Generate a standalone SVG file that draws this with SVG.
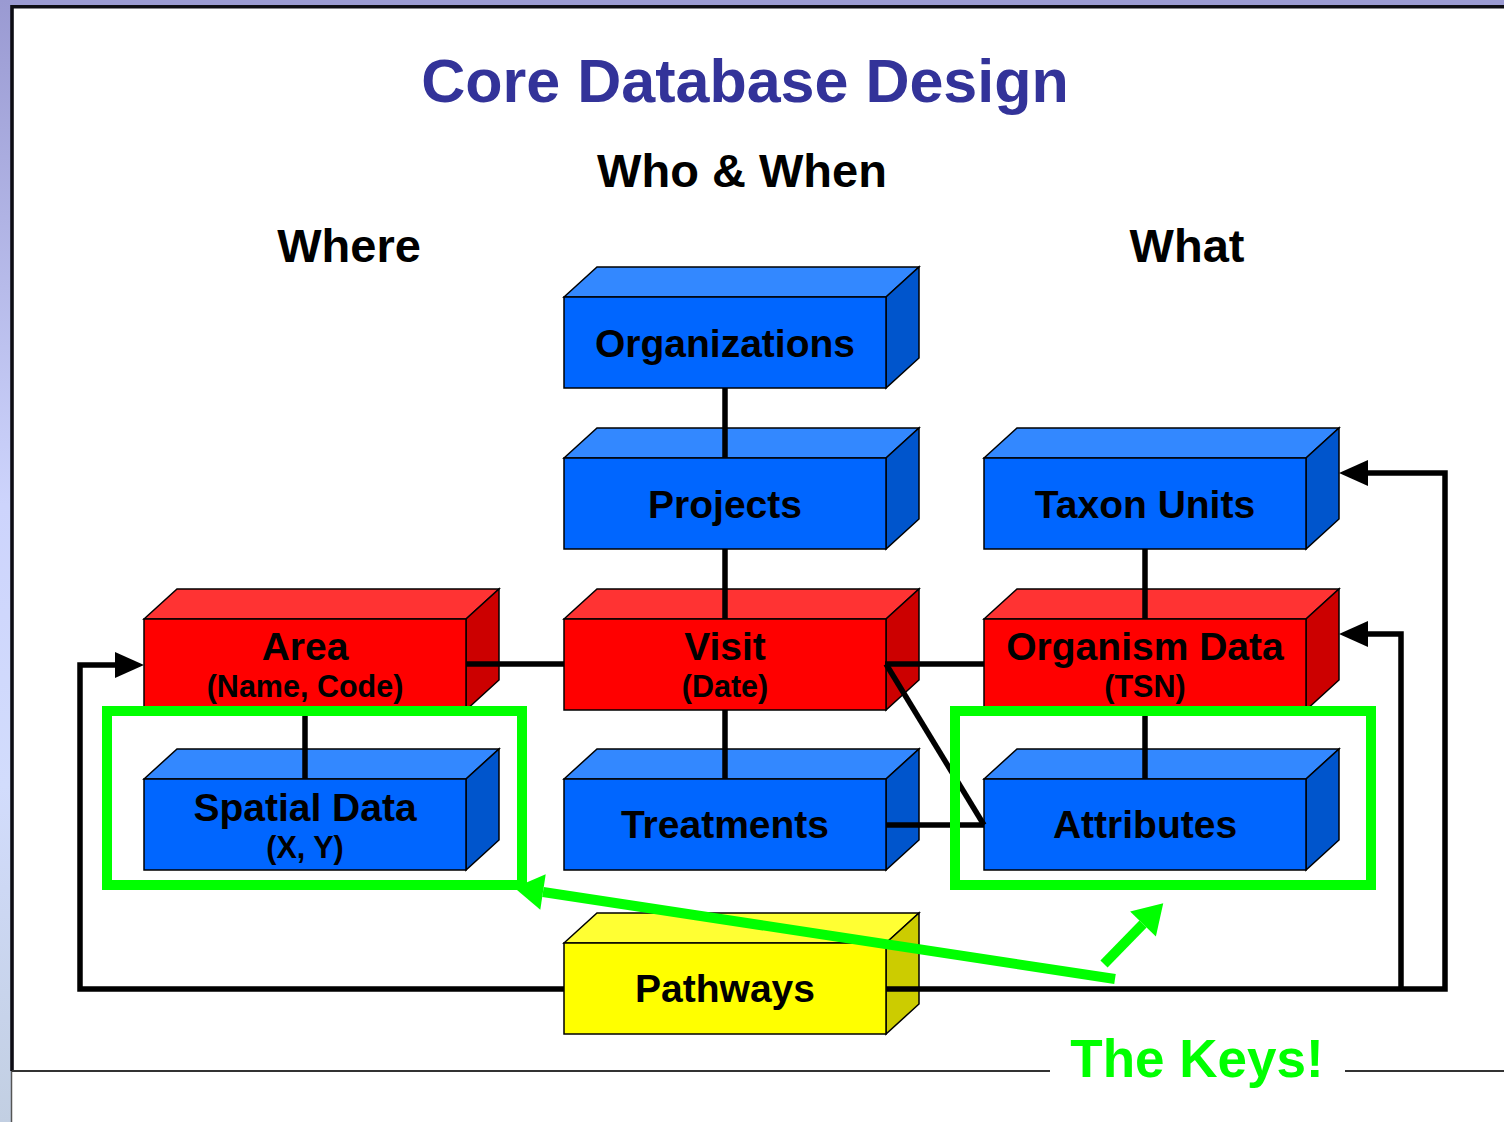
<svg xmlns="http://www.w3.org/2000/svg" width="1504" height="1122" viewBox="0 0 1504 1122">
  <defs>
    <linearGradient id="sideBand" x1="0" y1="0" x2="0" y2="1">
      <stop offset="0" stop-color="#9a9ad2"/>
      <stop offset="0.45" stop-color="#cdd4fc"/>
      <stop offset="0.7" stop-color="#d2dcfc"/>
      <stop offset="1" stop-color="#c2cfe2"/>
    </linearGradient>
    <marker id="headBlack" markerUnits="userSpaceOnUse" markerWidth="30" markerHeight="28" refX="0" refY="14" orient="auto" overflow="visible">
      <path d="M0,1 L29,14 L0,27 Z" fill="#000"/>
    </marker>
    <marker id="headGreen" markerUnits="userSpaceOnUse" markerWidth="30" markerHeight="36" refX="0" refY="18" orient="auto" overflow="visible">
      <path d="M0,0 L29,18 L0,36 Z" fill="#00ff00"/>
    </marker>
    <style>
      text { font-family: "Liberation Sans", Arial, sans-serif; font-weight: bold; text-anchor: middle; }
      .title { font-size: 61px; fill: #333399; }
      .heading { font-size: 47px; fill: #000; }
      .label { font-size: 39px; fill: #000; }
      .sub { font-size: 30.5px; fill: #000; }
      .keys { font-size: 53px; fill: #00ff00; }
      .box rect, .box polygon { stroke: #000; stroke-width: 1.5; stroke-linejoin: miter; }
      .blue .front { fill: #0066ff; }
      .blue .top { fill: #3388ff; }
      .blue .side { fill: #0055cc; }
      .red .front { fill: #ff0000; }
      .red .top { fill: #ff3333; }
      .red .side { fill: #cc0000; }
      .yellow .front { fill: #ffff00; }
      .yellow .top { fill: #ffff33; }
      .yellow .side { fill: #cccc00; }
      .link { fill: none; stroke: #000; stroke-width: 5.5; }
      .hl { fill: none; stroke: #00ff00; stroke-width: 10; }
    </style>
  </defs>

  <!-- page frame -->
  <rect x="0" y="0" width="1504" height="1122" fill="#ffffff"/>
  <rect x="0" y="0" width="1504" height="6" fill="#9a9ad2"/>
  <rect x="0" y="0" width="11" height="1122" fill="url(#sideBand)"/>
  <polyline points="12,1071 12,6.8 1504,6.8" fill="none" stroke="#0d0d14" stroke-width="3.6"/>
  <line x1="11.5" y1="1071" x2="11.5" y2="1122" stroke="#555" stroke-width="1.5"/>
  <line x1="12" y1="1071" x2="1050" y2="1071" stroke="#333" stroke-width="2"/>
  <line x1="1345" y1="1071" x2="1504" y2="1071" stroke="#333" stroke-width="2"/>

  <!-- headings -->
  <text class="title" x="745" y="102">Core Database Design</text>
  <text class="heading" x="742" y="187">Who &amp; When</text>
  <text class="heading" x="349" y="262">Where</text>
  <text class="heading" x="1187" y="262">What</text>

  <!-- tables -->
  <g id="organizations" class="box blue">
    <polygon class="top" points="564,297 597,267 919,267 886,297"/>
    <polygon class="side" points="886,297 919,267 919,358 886,388"/>
    <rect class="front" x="564" y="297" width="322" height="91"/>
    <text class="label" x="725" y="357">Organizations</text>
  </g>
  <g id="projects" class="box blue">
    <polygon class="top" points="564,458 597,428 919,428 886,458"/>
    <polygon class="side" points="886,458 919,428 919,519 886,549"/>
    <rect class="front" x="564" y="458" width="322" height="91"/>
    <text class="label" x="725" y="518">Projects</text>
  </g>
  <g id="visit" class="box red">
    <polygon class="top" points="564,619 597,589 919,589 886,619"/>
    <polygon class="side" points="886,619 919,589 919,680 886,710"/>
    <rect class="front" x="564" y="619" width="322" height="91"/>
    <text class="label" x="725" y="660">Visit</text>
    <text class="sub" x="725" y="697">(Date)</text>
  </g>
  <g id="treatments" class="box blue">
    <polygon class="top" points="564,779 597,749 919,749 886,779"/>
    <polygon class="side" points="886,779 919,749 919,840 886,870"/>
    <rect class="front" x="564" y="779" width="322" height="91"/>
    <text class="label" x="725" y="838">Treatments</text>
  </g>
  <g id="pathways" class="box yellow">
    <polygon class="top" points="564,943 597,913 919,913 886,943"/>
    <polygon class="side" points="886,943 919,913 919,1004 886,1034"/>
    <rect class="front" x="564" y="943" width="322" height="91"/>
    <text class="label" x="725" y="1002">Pathways</text>
  </g>
  <g id="area" class="box red">
    <polygon class="top" points="144,619 177,589 499,589 466,619"/>
    <polygon class="side" points="466,619 499,589 499,680 466,710"/>
    <rect class="front" x="144" y="619" width="322" height="91"/>
    <text class="label" x="305" y="660">Area</text>
    <text class="sub" x="305" y="697">(Name, Code)</text>
  </g>
  <g id="spatial-data" class="box blue">
    <polygon class="top" points="144,779 177,749 499,749 466,779"/>
    <polygon class="side" points="466,779 499,749 499,840 466,870"/>
    <rect class="front" x="144" y="779" width="322" height="91"/>
    <text class="label" x="305" y="821">Spatial Data</text>
    <text class="sub" x="305" y="858">(X, Y)</text>
  </g>
  <g id="taxon-units" class="box blue">
    <polygon class="top" points="984,458 1017,428 1339,428 1306,458"/>
    <polygon class="side" points="1306,458 1339,428 1339,519 1306,549"/>
    <rect class="front" x="984" y="458" width="322" height="91"/>
    <text class="label" x="1145" y="518">Taxon Units</text>
  </g>
  <g id="organism-data" class="box red">
    <polygon class="top" points="984,619 1017,589 1339,589 1306,619"/>
    <polygon class="side" points="1306,619 1339,589 1339,680 1306,710"/>
    <rect class="front" x="984" y="619" width="322" height="91"/>
    <text class="label" x="1145" y="660">Organism Data</text>
    <text class="sub" x="1145" y="697">(TSN)</text>
  </g>
  <g id="attributes" class="box blue">
    <polygon class="top" points="984,779 1017,749 1339,749 1306,779"/>
    <polygon class="side" points="1306,779 1339,749 1339,840 1306,870"/>
    <rect class="front" x="984" y="779" width="322" height="91"/>
    <text class="label" x="1145" y="838">Attributes</text>
  </g>

  <!-- relationships -->
  <g id="connectors">
    <line class="link" x1="725" y1="388" x2="725" y2="458"/>
    <line class="link" x1="725" y1="549" x2="725" y2="619"/>
    <line class="link" x1="725" y1="710" x2="725" y2="779"/>
    <line class="link" x1="305" y1="710" x2="305" y2="779"/>
    <line class="link" x1="1145" y1="549" x2="1145" y2="619"/>
    <line class="link" x1="1145" y1="710" x2="1145" y2="779"/>
    <line class="link" x1="466" y1="664" x2="564" y2="664"/>
    <line class="link" x1="885" y1="664" x2="984" y2="664"/>
    <line class="link" x1="886" y1="664" x2="984" y2="825"/>
    <line class="link" x1="886" y1="825" x2="984" y2="825"/>
    <polyline class="link" points="564,989 80,989 80,665 115,665" marker-end="url(#headBlack)"/>
    <polyline class="link" points="886,989 1445,989 1445,473 1368,473" marker-end="url(#headBlack)"/>
    <polyline class="link" points="1401,989 1401,634 1368,634" marker-end="url(#headBlack)"/>
  </g>

  <!-- key fields -->
  <g id="keys">
    <rect class="hl" x="107" y="711" width="415" height="174"/>
    <rect class="hl" x="955" y="711" width="416" height="174"/>
    <line class="hl" x1="1115" y1="979" x2="543" y2="892" marker-end="url(#headGreen)"/>
    <line class="hl" x1="1104" y1="964" x2="1143" y2="924" marker-end="url(#headGreen)"/>
    <text class="keys" x="1197" y="1077">The Keys!</text>
  </g>
</svg>
